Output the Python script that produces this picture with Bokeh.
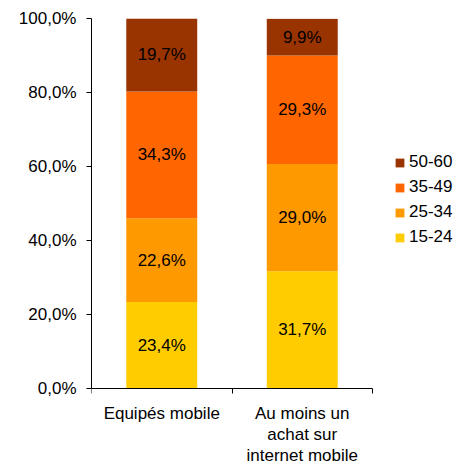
from bokeh.plotting import figure
from bokeh.models import FixedTicker, Legend, LegendItem, ColumnDataSource, Range1d
from bokeh.embed import file_html
from bokeh.resources import INLINE
from bokeh.core.properties import value

categories = ["Equipés mobile", "Au moins un\nachat sur\ninternet mobile"]
age_groups = ["15-24", "25-34", "35-49", "50-60"]
v_15_24 = [23.4, 31.7]
v_25_34 = [22.6, 29.0]
v_35_49 = [34.3, 29.3]
v_50_60 = [19.7, 9.9]
series = [v_15_24, v_25_34, v_35_49, v_50_60]
colors = ["#FFCC00", "#FF9900", "#FF6600", "#993300"]
y_ticks = [0, 20, 40, 60, 80, 100]
y_tick_labels = ["0,0%", "20,0%", "40,0%", "60,0%", "80,0%", "100,0%"]

FONT = "Liberation Sans"
FS = "17px"

W, H = 454, 467
LEFT, TOP = 91, 18
AXIS_W = 281   # pixel length of the category axis
AXIS_H = 370   # pixel length of the 0-100 value axis
frame_w = W - LEFT
frame_h = H - TOP
x_end = len(categories) * frame_w / AXIS_W
y_start = -100 * (frame_h - AXIS_H) / AXIS_H

p = figure(width=W, height=H, output_backend="svg", toolbar_location=None,
           x_range=Range1d(0, x_end), y_range=Range1d(y_start, 100),
           min_border_left=LEFT, min_border_right=0, min_border_top=TOP, min_border_bottom=0)
p.outline_line_color = None
p.xgrid.visible = False
p.ygrid.visible = False
p.background_fill_color = "white"
p.border_fill_color = "white"

xs = [i + 0.5 for i in range(len(categories))]
bottoms = [0.0] * len(categories)
renderers = []
lx, ly, lt = [], [], []
for vals, col in zip(series, colors):
    tops = [b + v for b, v in zip(bottoms, vals)]
    src = ColumnDataSource(dict(x=xs, bottom=bottoms, top=tops))
    r = p.vbar(x="x", bottom="bottom", top="top", width=0.505, source=src,
               fill_color=col, line_color=None)
    renderers.append(r)
    for x, b, v in zip(xs, bottoms, vals):
        lx.append(x)
        ly.append(b + v / 2)
        lt.append(f"{v:.1f}".replace(".", ",") + "%")
    bottoms = tops

p.text(x=lx, y=ly, text=lt, text_align="center", text_baseline="middle",
       text_font=value(FONT), text_font_size=FS, text_color="black")

items = [LegendItem(label=g, renderers=[r]) for g, r in zip(age_groups, renderers)][::-1]
legend = Legend(items=items, location=(303, 220), orientation="vertical",
                glyph_width=11, glyph_height=11, label_height=20, spacing=5,
                label_standoff=4, padding=0, margin=0,
                border_line_color=None, background_fill_alpha=0,
                label_text_font=FONT, label_text_font_size=FS, label_text_color="black")
p.add_layout(legend, "center")

# y axis
p.yaxis.bounds = (0, 100)
p.yaxis.ticker = FixedTicker(ticks=y_ticks, minor_ticks=[])
p.yaxis.major_label_overrides = {t: l for t, l in zip(y_ticks, y_tick_labels)}
p.yaxis.major_tick_out = 5
p.yaxis.major_tick_in = 0
p.yaxis.major_label_standoff = 10
p.yaxis.axis_line_color = "black"
p.yaxis.major_tick_line_color = "black"

# x axis drawn at y = 0, line limited to the categories
p.xaxis.fixed_location = 0
p.xaxis.bounds = (0, len(categories))
p.xaxis.ticker = FixedTicker(ticks=xs, minor_ticks=list(range(len(categories) + 1)))
p.xaxis.major_label_overrides = {x: c for x, c in zip(xs, categories)}
p.xaxis.major_tick_out = 0
p.xaxis.major_tick_in = 0
p.xaxis.minor_tick_out = 5
p.xaxis.minor_tick_in = 0
p.xaxis.minor_tick_line_color = "black"
p.xaxis.major_label_standoff = 10
p.xaxis.major_label_text_line_height = 1.12
p.xaxis.axis_line_color = "black"

for ax in (p.xaxis, p.yaxis):
    ax.major_label_text_font = FONT
    ax.major_label_text_font_size = FS
    ax.major_label_text_color = "black"

open("out.html", "w").write(file_html(p, INLINE))
